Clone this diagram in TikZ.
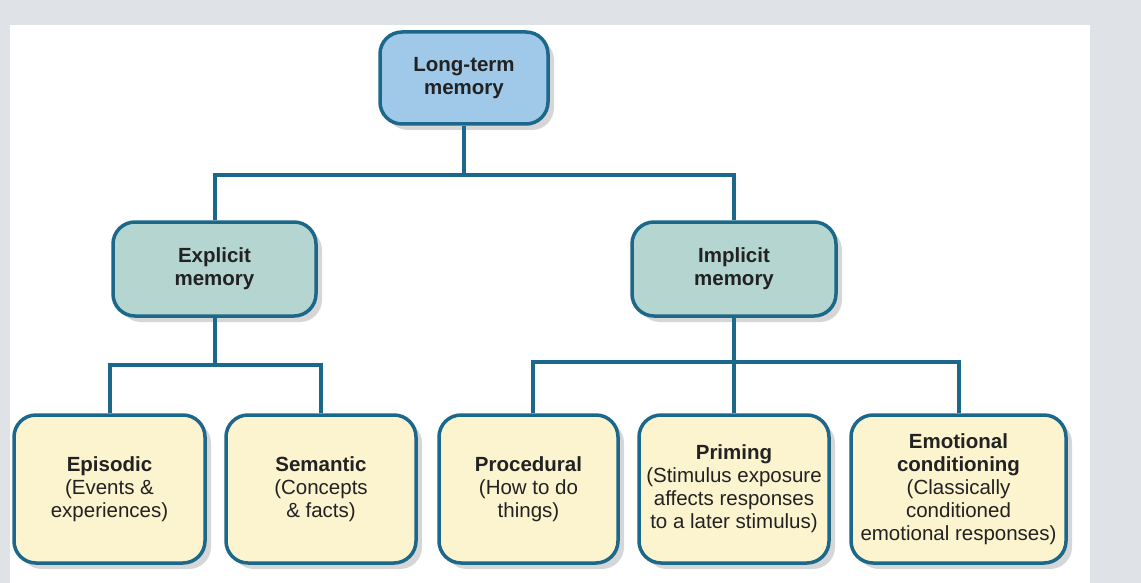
\documentclass[tikz,border=0pt]{standalone}
\usepackage{fontspec}
\setmainfont{Liberation Sans}
\usetikzlibrary{shadows}
\definecolor{bggray}{HTML}{DFE3E7}
\definecolor{edgeblue}{RGB}{28,104,138}
\definecolor{topfill}{HTML}{A0C9E9}
\definecolor{midfill}{HTML}{B5D5D0}
\definecolor{lowfill}{HTML}{FCF3CF}
\definecolor{txt}{HTML}{222222}
\tikzset{
  box/.style={draw=edgeblue, line width=3.5pt, rounded corners=22pt, align=center,
    text=txt, font=\fontsize{20.5}{23}\selectfont, inner sep=1pt,
    drop shadow={opacity=0.16, shadow xshift=6pt, shadow yshift=-6pt, fill=black}},
  topbox/.style={box, fill=topfill},
  midbox/.style={box, fill=midfill},
  lowbox/.style={box, fill=lowfill, minimum height=148pt},
  link/.style={draw=edgeblue, line width=4pt}
}
\begin{document}
\begin{tikzpicture}[x=1pt,y=-1pt]
\useasboundingbox (0,0) rectangle (1141,583);
\fill[bggray] (0,0) rectangle (1141,583);
\fill[white] (10,25) rectangle (1090,583);

\node[topbox, minimum width=168pt, minimum height=92pt] (lt) at (464,78) {\textbf{Long-term}\\\textbf{memory}};
\node[midbox, minimum width=203pt, minimum height=94pt] (ex) at (214.5,269) {\textbf{Explicit}\\\textbf{memory}};
\node[midbox, minimum width=204pt, minimum height=94pt] (im) at (734,269) {\textbf{Implicit}\\\textbf{memory}};

\node[lowbox, minimum width=191pt] (ep) at (109.5,489) {\textbf{Episodic}\\(Events \&\\experiences)};
\node[lowbox, minimum width=190pt] (se) at (321,489) {\textbf{Semantic}\\(Concepts\\\& facts)};
\node[lowbox, minimum width=179pt] (pr) at (528.5,489) {\textbf{Procedural}\\(How to do\\things)};
\node[lowbox, minimum width=190pt] (pm) at (734,489) {\textbf{Priming}\\(Stimulus exposure\\affects responses\\to a later stimulus)};
\node[lowbox, minimum width=215pt] (em) at (958.5,489) {\textbf{Emotional}\\\textbf{conditioning}\\(Classically\\conditioned\\emotional responses)};

\draw[link] (lt.south) -- ++(0,49) coordinate (j1) -| (ex.north);
\draw[link] (j1) -| (im.north);
\draw[link] (ex.south) -- ++(0,47) coordinate (j2) -| (ep.north);
\draw[link] (j2) -| (se.north);
\draw[link] (im.south) -- ++(0,44) coordinate (j3) -| ([xshift=4pt]pr.north);
\draw[link] (j3) -- (pm.north);
\draw[link] (j3) -| (em.north);
\end{tikzpicture}
\end{document}
